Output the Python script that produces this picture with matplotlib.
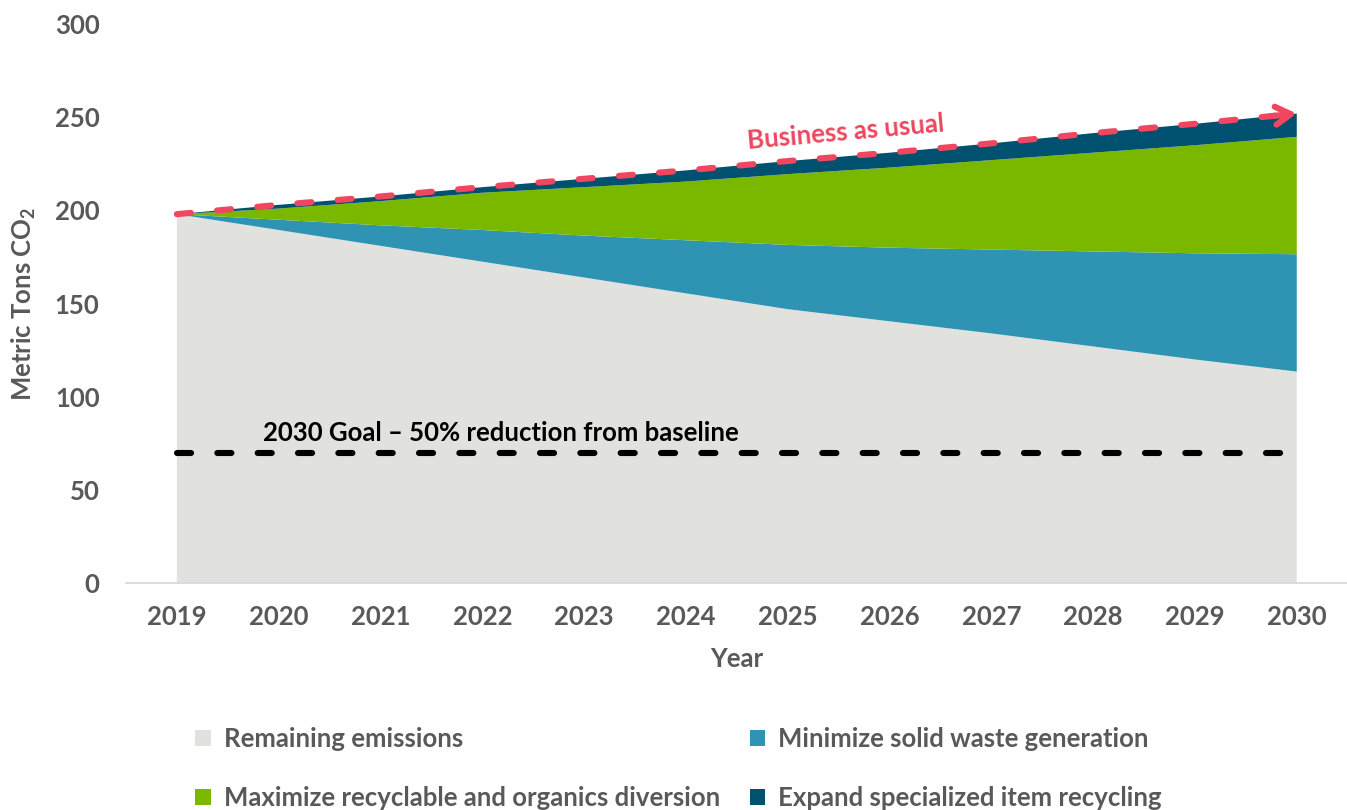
import matplotlib.pyplot as plt
from matplotlib.patches import Patch

# =========================
# DATA
# =========================

years = [2019, 2020, 2021, 2022, 2023, 2024, 2025, 2026, 2027, 2028, 2029, 2030]

remaining = [198, 189.5, 181, 172.5, 164, 155.5, 147, 140.5, 134, 127, 120, 113.5]
minimize_waste = [0, 5.5, 11, 17, 22.5, 28.5, 34.5, 39.5, 45, 51, 57, 63]
maximize_diversion = [0, 6, 13, 20, 26, 31.5, 38, 43, 48, 53, 58, 63]
expand_recycling = [0, 2, 2.5, 3, 4.5, 6, 7, 8, 9, 10.5, 11.5, 12.5]

goal_value = 70
y_ticks = [0, 50, 100, 150, 200, 250, 300]

labels = [
    "Remaining emissions",
    "Minimize solid waste generation",
    "Maximize recyclable and organics diversion",
    "Expand specialized item recycling",
]
colors = ["#E1E2DD", "#2F94B4", "#7AB800", "#00516F"]

# business as usual = top of the stack
bau = [a + b + c + d for a, b, c, d in
       zip(remaining, minimize_waste, maximize_diversion, expand_recycling)]

# =========================
# STYLE
# =========================

plt.rcParams["font.family"] = ["Lato", "DejaVu Sans"]
plt.rcParams["font.weight"] = "bold"
plt.rcParams["axes.labelweight"] = "bold"
plt.rcParams["mathtext.fontset"] = "custom"
plt.rcParams["mathtext.rm"] = "Lato:bold"
plt.rcParams["mathtext.it"] = "Lato:bold"

text_gray = "#595959"
red = "#F0465F"
fs = 18.5

fig = plt.figure(figsize=(13.47, 8.10), dpi=100)
ax = fig.add_axes([0.0935, 0.2802, 0.907, 0.690])

# =========================
# STACKED AREAS
# =========================

ax.stackplot(
    years,
    remaining,
    minimize_waste,
    maximize_diversion,
    expand_recycling,
    colors=colors,
    linewidth=0,
)

# goal line
ax.plot(
    [years[0], years[-1]],
    [goal_value, goal_value],
    color="black",
    linewidth=4.4,
    dashes=(2.3, 4.3),
    dash_capstyle="round",
)
ax.text(
    2019.85, 80.5,
    "2030 Goal \u2013 50% reduction from baseline",
    fontsize=fs, fontweight="bold", color="black",
    ha="left", va="center",
)

# business as usual line with arrow head
ax.plot(
    years[:-1] + [years[-1] - 0.12],
    bau[:-1] + [bau[-1] - 0.12 * (bau[-1] - bau[-2])],
    color=red,
    linewidth=4.4,
    dashes=(2.3, 4.3),
    dash_capstyle="round",
)
ax.annotate(
    "",
    xy=(years[-1], bau[-1]),
    xytext=(years[-1] - 0.25, bau[-1] - 0.25 * (bau[-1] - bau[-2])),
    arrowprops=dict(
        arrowstyle="->,head_length=1.1,head_width=0.65",
        color=red,
        linewidth=4.4,
        capstyle="round",
        joinstyle="round",
        shrinkA=0,
        shrinkB=0,
    ),
)
ax.text(
    2025.57, 242,
    "Business as usual",
    fontsize=fs, fontweight="bold", color=red,
    ha="center", va="center", rotation=5.1,
    rotation_mode="anchor",
)

# =========================
# AXES
# =========================

ax.set_xlim(2018.5, 2030.5)
ax.set_ylim(0, 300)
ax.set_xticks(years)
ax.set_yticks(y_ticks)
ax.tick_params(axis="both", length=0, labelsize=fs, labelcolor=text_gray)
ax.tick_params(axis="y", pad=19)
ax.tick_params(axis="x", pad=16)

for side in ["top", "right", "left"]:
    ax.spines[side].set_visible(False)
ax.spines["bottom"].set_color("#D9D9D9")
ax.spines["bottom"].set_linewidth(1.3)

ax.set_xlabel("Year", fontsize=fs, color=text_gray, labelpad=13)
ax.set_ylabel("Metric Tons CO$_2$", fontsize=fs, color=text_gray, labelpad=12)

# =========================
# LEGEND
# =========================

legend_order = [0, 2, 1, 3]
handles = [Patch(facecolor=colors[i], edgecolor="none") for i in legend_order]
fig.legend(
    handles,
    [labels[i] for i in legend_order],
    loc="upper left",
    bbox_to_anchor=(0.145, 0.102),
    ncol=2,
    frameon=False,
    fontsize=fs,
    labelcolor=text_gray,
    handlelength=0.6,
    handleheight=0.6,
    handletextpad=0.5,
    columnspacing=1.17,
    labelspacing=1.35,
    borderpad=0,
    borderaxespad=0,
)

plt.savefig("out.png", dpi=100)
plt.close()
